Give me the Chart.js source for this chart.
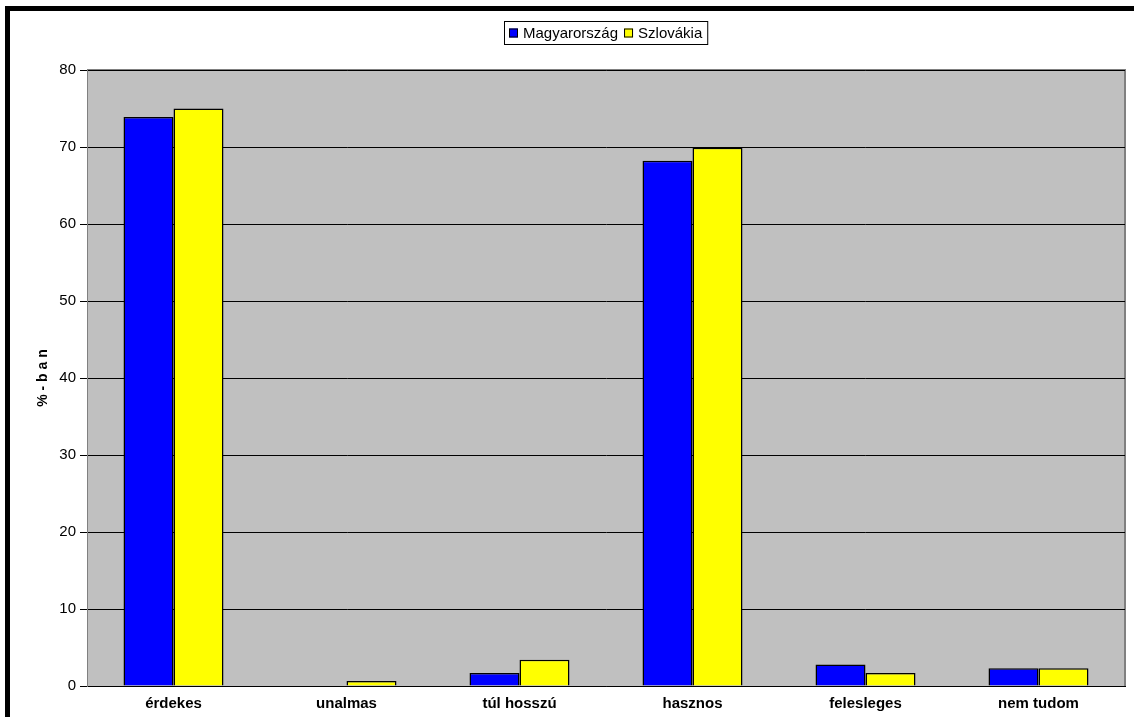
<!DOCTYPE html>
<html>
<head>
<meta charset="utf-8">
<script src="https://cdn.jsdelivr.net/npm/chart.js@4/dist/chart.umd.min.js"></script>
<style>
  html, body { margin: 0; padding: 0; background: #fff; }
  #wrap { width: 1134px; height: 717px; position: relative; }
</style>
</head>
<body>
<div id="wrap"><canvas id="myChart" width="1134" height="717"></canvas></div>
<script>
const categories = ['érdekes', 'unalmas', 'túl hosszú', 'hasznos', 'felesleges', 'nem tudom'];
const seriesNames = ['Magyarország', 'Szlovákia'];
const hungary = [73.9, 0, 1.7, 68.2, 2.8, 2.3];
const slovakia = [75.0, 0.65, 3.4, 69.9, 1.7, 2.3];
const yTicks = [0, 10, 20, 30, 40, 50, 60, 70, 80];

const FONT = '"Liberation Sans", Arial, sans-serif';

// gray plot area + outer frame
const backdrop = {
  id: 'backdrop',
  beforeDraw(chart) {
    const { ctx, chartArea: a } = chart;
    ctx.save();
    ctx.fillStyle = '#000';
    ctx.fillRect(5, 6, 5, chart.height);
    ctx.fillRect(5, 6, chart.width, 5);
    ctx.fillStyle = '#c0c0c0';
    ctx.fillRect(a.left, a.top, a.right - a.left, a.bottom - a.top);
    ctx.strokeStyle = '#808080';
    ctx.lineWidth = 2;
    ctx.beginPath();
    ctx.moveTo(a.left, a.top);
    ctx.lineTo(a.right, a.top);
    ctx.lineTo(a.right, a.bottom);
    ctx.stroke();
    ctx.restore();
  }
};

// Excel style boxed legend, centred over the plot area
const boxLegend = {
  id: 'boxLegend',
  afterDraw(chart) {
    const { ctx, chartArea: a } = chart;
    ctx.save();
    ctx.font = '15px ' + FONT;
    const sq = 9, gap = 5, itemGap = 6, pad = 5;
    const items = chart.data.datasets.map(ds => ({
      label: ds.label, color: ds.backgroundColor, w: ctx.measureText(ds.label).width
    }));
    let total = pad * 2;
    items.forEach((it, i) => { total += sq + gap + it.w + (i ? itemGap : 0); });
    const cx = (a.left + a.right) / 2;
    const top = 21, h = 23;
    let x = Math.round(cx - total / 2);
    ctx.strokeStyle = '#000';
    ctx.lineWidth = 1;
    ctx.strokeRect(x + 0.5, top + 0.5, total, h);
    x += pad;
    const cy = top + h / 2 + 1;
    ctx.textBaseline = 'middle';
    items.forEach((it, i) => {
      if (i) x += itemGap;
      ctx.fillStyle = it.color;
      ctx.fillRect(x, cy - 5, sq, sq);
      ctx.strokeStyle = '#000';
      ctx.strokeRect(x + 0.5, cy - 4.5, sq - 1, sq - 1);
      x += sq + gap;
      ctx.fillStyle = '#000';
      ctx.fillText(it.label, x, cy);
      x += it.w;
    });
    ctx.restore();
  }
};

new Chart(document.getElementById('myChart').getContext('2d'), {
  type: 'bar',
  data: {
    labels: categories,
    datasets: [
      { label: seriesNames[0], data: hungary, backgroundColor: '#0000ff', borderColor: '#000', borderWidth: 1.5 },
      { label: seriesNames[1], data: slovakia, backgroundColor: '#ffff00', borderColor: '#000', borderWidth: 1.5 }
    ]
  },
  options: {
    responsive: false,
    animation: false,
    layout: { padding: { top: 70, left: 30, right: 9, bottom: 0 } },
    datasets: { bar: { categoryPercentage: 0.578, barPercentage: 1 } },
    plugins: {
      legend: { display: false },
      tooltip: { enabled: false }
    },
    scales: {
      x: {
        grid: { display: false },
        border: { color: '#000', width: 1 },
        ticks: { color: '#000', font: { family: FONT, size: 15, weight: 'bold' }, padding: 1, maxRotation: 0 },
        afterFit(scale) { scale.height = 31; }
      },
      y: {
        min: 0, max: 80,
        afterBuildTicks(scale) { scale.ticks = yTicks.map(v => ({ value: v })); },
        grid: { color: '#000', lineWidth: 1, tickLength: 7, drawTicks: true },
        border: { color: '#808080', width: 1 },
        ticks: { color: '#000', font: { family: FONT, size: 15 }, padding: 4 },
        title: {
          display: true, text: '% - b a n', color: '#000',
          font: { family: FONT, size: 14, weight: 'bold' }, padding: { top: 5, bottom: 4 }
        },
        afterFit(scale) { scale.width = 57; }
      }
    }
  },
  plugins: [backdrop, boxLegend]
});
</script>
</body>
</html>
